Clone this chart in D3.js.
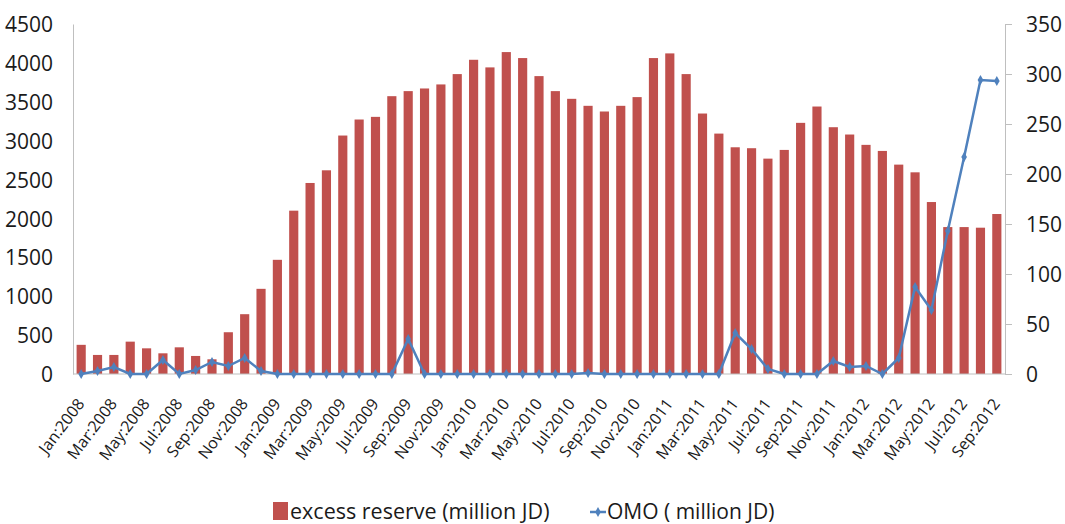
<!DOCTYPE html>
<html lang="en">
<head>
<meta charset="UTF-8"/>
<title>Excess reserve and OMO</title>
<script src="https://d3js.org/d3.v7.min.js"></script>
<style>
    body { margin: 0; background: white; }
    text { font-family: "Open Sans", "Noto Sans", sans-serif; fill: #1a1a1a; }
</style>
</head>
<body>
<script>
// months Jan:2008 .. Sep:2012
var monthNames = ["Jan", "Feb", "Mar", "Apr", "May", "Jun", "Jul", "Aug", "Sep", "Oct", "Nov", "Dec"];
var months = [];
for (var yr = 2008; yr <= 2012; yr++) {
    for (var m = 0; m < 12; m++) {
        if (yr == 2012 && m > 8) break;
        months.push(monthNames[m] + ":" + yr);
    }
}

// excess reserve (million JD) - left axis
var reserve = [375, 245, 245, 416, 330, 266, 343, 232, 189, 537, 769, 1095,
               1468, 2100, 2456, 2619, 3066, 3272, 3306, 3572, 3637, 3671, 3723, 3856,
               4040, 3942, 4139, 4062, 3830, 3637, 3538, 3448, 3375, 3448, 3560, 4062,
               4122, 3856, 3349, 3091, 2915, 2903, 2769, 2881, 3229, 3439, 3173, 3079,
               2946, 2868, 2692, 2593, 2211, 1889, 1889, 1881, 2057];

// OMO (million JD) - right axis
var omo = [0, 3, 7, 0, 0, 14, 0, 4, 12, 8, 16, 3,
           0, 0, 0, 0, 0, 0, 0, 0, 35, 0, 0, 0,
           0, 0, 0, 0, 0, 0, 0, 1, 0, 0, 0, 0,
           0, 0, 0, 0, 41, 25, 5, 0, 0, 0, 13, 7,
           8, 0, 16, 87, 64, 143, 217, 294, 293];

var leftTicks = [0, 500, 1000, 1500, 2000, 2500, 3000, 3500, 4000, 4500];
var rightTicks = [0, 50, 100, 150, 200, 250, 300, 350];

var w = 1065, h = 524;
var mLeft = 73, mRight = 1005, mTop = 24, mBottom = 374;

var svg = d3.select("body").append("svg")
    .attr("width", w)
    .attr("height", h);

var x = d3.scaleBand()
    .domain(months)
    .range([mLeft, mRight])
    .paddingInner(0.44)
    .paddingOuter(0.22);

var yL = d3.scaleLinear().domain([0, 4500]).range([mBottom, mTop]);
var yR = d3.scaleLinear().domain([0, 350]).range([mBottom, mTop]);

// bars
svg.selectAll("rect.bar")
    .data(reserve)
    .enter()
    .append("rect")
    .attr("class", "bar")
    .attr("x", function(d, i) { return x(months[i]); })
    .attr("y", function(d) { return yL(d); })
    .attr("width", x.bandwidth())
    .attr("height", function(d) { return mBottom - yL(d); })
    .style("fill", "#C0504D");

// left axis
var axL = svg.append("g")
    .attr("transform", "translate(" + mLeft + ",0)")
    .call(d3.axisLeft(yL).tickValues(leftTicks).tickFormat(d3.format("d")).tickSize(0).tickPadding(20));
axL.select(".domain").attr("stroke", "#bfbfbf");
axL.selectAll("text").style("font-size", "21px").attr("dy", "0.36em");

// right axis
var axR = svg.append("g")
    .attr("transform", "translate(" + mRight + ",0)")
    .call(d3.axisRight(yR).tickValues(rightTicks).tickFormat(d3.format("d")).tickSize(7).tickPadding(14));
axR.select(".domain").attr("stroke", "#bfbfbf");
axR.selectAll("line").attr("stroke", "#bfbfbf");
axR.selectAll("text").style("font-size", "21px").attr("dy", "0.36em");

// x axis line
svg.append("line")
    .attr("x1", mLeft).attr("x2", mRight)
    .attr("y1", mBottom).attr("y2", mBottom)
    .attr("stroke", "#bfbfbf");

// x labels, every other month
svg.selectAll("text.xlab")
    .data(months.filter(function(d, i) { return i % 2 == 0; }))
    .enter()
    .append("text")
    .attr("class", "xlab")
    .attr("text-anchor", "end")
    .attr("transform", function(d) {
        return "translate(" + (x(d) + x.bandwidth() / 2 + 4) + "," + 404 + ") rotate(-53)";
    })
    .style("font-size", "16px")
    .text(function(d) { return d; });

// OMO line
var line = d3.line()
    .x(function(d, i) { return x(months[i]) + x.bandwidth() / 2; })
    .y(function(d) { return yR(d); });

svg.append("path")
    .datum(omo)
    .attr("d", line)
    .attr("fill", "none")
    .attr("stroke", "#4F81BD")
    .attr("stroke-width", 2.5);

var diamond = d3.symbol().type(d3.symbolDiamond).size(28);
svg.selectAll("path.mark")
    .data(omo)
    .enter()
    .append("path")
    .attr("class", "mark")
    .attr("d", diamond)
    .attr("transform", function(d, i) {
        return "translate(" + (x(months[i]) + x.bandwidth() / 2) + "," + yR(d) + ")";
    })
    .style("fill", "#4F81BD");

// legend
var leg = svg.append("g");
leg.append("rect")
    .attr("x", 273).attr("y", 502)
    .attr("width", 15).attr("height", 18)
    .style("fill", "#C0504D");
leg.append("text")
    .attr("x", 290).attr("y", 519)
    .style("font-size", "21.5px")
    .text("excess reserve (million JD)");
leg.append("line")
    .attr("x1", 590).attr("x2", 606)
    .attr("y1", 512).attr("y2", 512)
    .attr("stroke", "#4F81BD").attr("stroke-width", 2.5);
leg.append("path")
    .attr("d", diamond)
    .attr("transform", "translate(598,512)")
    .style("fill", "#4F81BD");
leg.append("text")
    .attr("x", 607).attr("y", 519)
    .style("font-size", "21px")
    .text("OMO ( million JD)");
</script>
</body>
</html>
